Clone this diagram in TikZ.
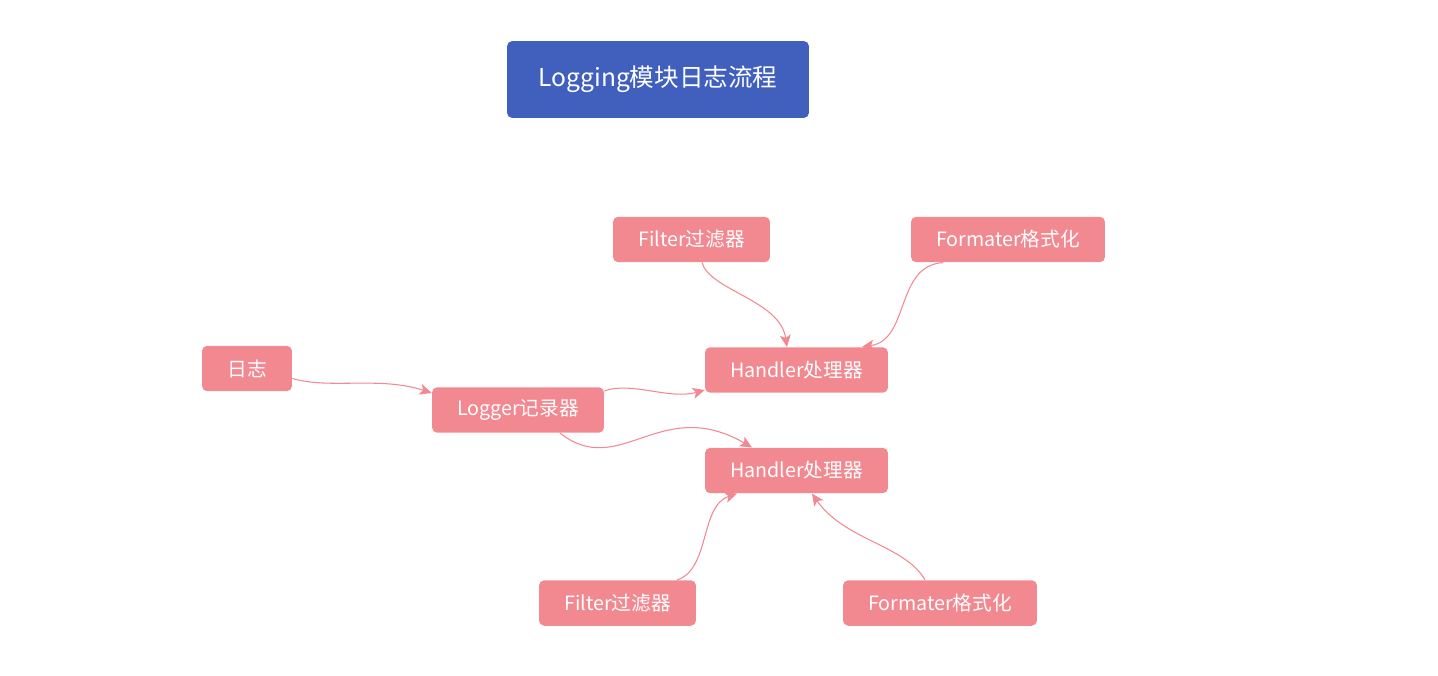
\documentclass[tikz,border=0pt]{standalone}
\usepackage{fontspec}
\setmainfont{Noto Sans CJK SC}
\usetikzlibrary{arrows.meta}
\definecolor{boxpink}{HTML}{F28890}
\definecolor{titleblue}{HTML}{4160BE}
\tikzset{
  flow/.style={
    x=0.02cm, y=0.02cm,
    every node/.style={rounded corners=3pt,inner sep=0pt,text=white,font=\fontsize{11.2pt}{13pt}\selectfont},
    box/.style={
        fill=boxpink,
        minimum height=0.91cm,
    },
    title box/.style={
        fill=titleblue,
        minimum width=6.04cm,
        minimum height=1.54cm,
        font=\fontsize{14pt}{17pt}\selectfont,
    },
    link/.style={
        draw=boxpink,
        line width=0.6pt,
        -{Stealth[length=2.4mm,width=2.2mm,inset=0.6mm]},
    }
  }
}

\begin{document}
\begin{tikzpicture}[flow]
        \useasboundingbox (0,0) rectangle (1438,-676);
        \node[title box] (title) at (658,-79.5) {Logging模块日志流程};
        \node[box,minimum width=3.14cm] (filterA) at (691.5,-239.5) {Filter过滤器};
        \node[box,minimum width=3.88cm] (formatA) at (1008,-239.5) {Formater格式化};
        \node[box,minimum width=1.8cm] (log) at (247,-368.5) {日志};
        \node[box,minimum width=3.44cm] (logger) at (518,-410) {Logger记录器};
        \node[box,minimum width=3.66cm] (handlerA) at (796.5,-370) {Handler处理器};
        \node[box,minimum width=3.66cm] (handlerB) at (796.5,-470.5) {Handler处理器};
        \node[box,minimum width=3.14cm] (filterB) at (617.5,-603) {Filter过滤器};
        \node[box,minimum width=3.88cm] (formatB) at (940,-603) {Formater格式化};

        \draw[link] ([yshift=-0.2cm]log.east) .. controls +(38,-11) and +(-52,17) .. ([yshift=0.34cm]logger.west);
        \draw[link] ([yshift=0.38cm]logger.east) .. controls +(26,10) and +(-35,-10) .. ([yshift=-0.4cm]handlerA.west);
        \draw[link] ([xshift=0.84cm]logger.south) .. controls +(60,-47) and +(-92,53) .. ([xshift=-0.89cm]handlerB.north);
        \draw[link] ([xshift=0.21cm]filterA.south) .. controls +(8,-28) and +(-7,47) .. ([xshift=-0.19cm]handlerA.north);
        \draw[link] ([xshift=-1.3cm]formatA.south) .. controls +(-48,-3) and +(48,7) .. ([xshift=1.31cm]handlerA.north);
        \draw[link] ([xshift=1.19cm]filterB.north) .. controls +(33,10) and +(-37,-12) .. ([xshift=-1.19cm]handlerB.south);
        \draw[link] ([xshift=-0.3cm]formatB.north) .. controls +(-20,35) and +(33,-47) .. ([xshift=0.31cm]handlerB.south);
      \end{tikzpicture}
\end{document}
